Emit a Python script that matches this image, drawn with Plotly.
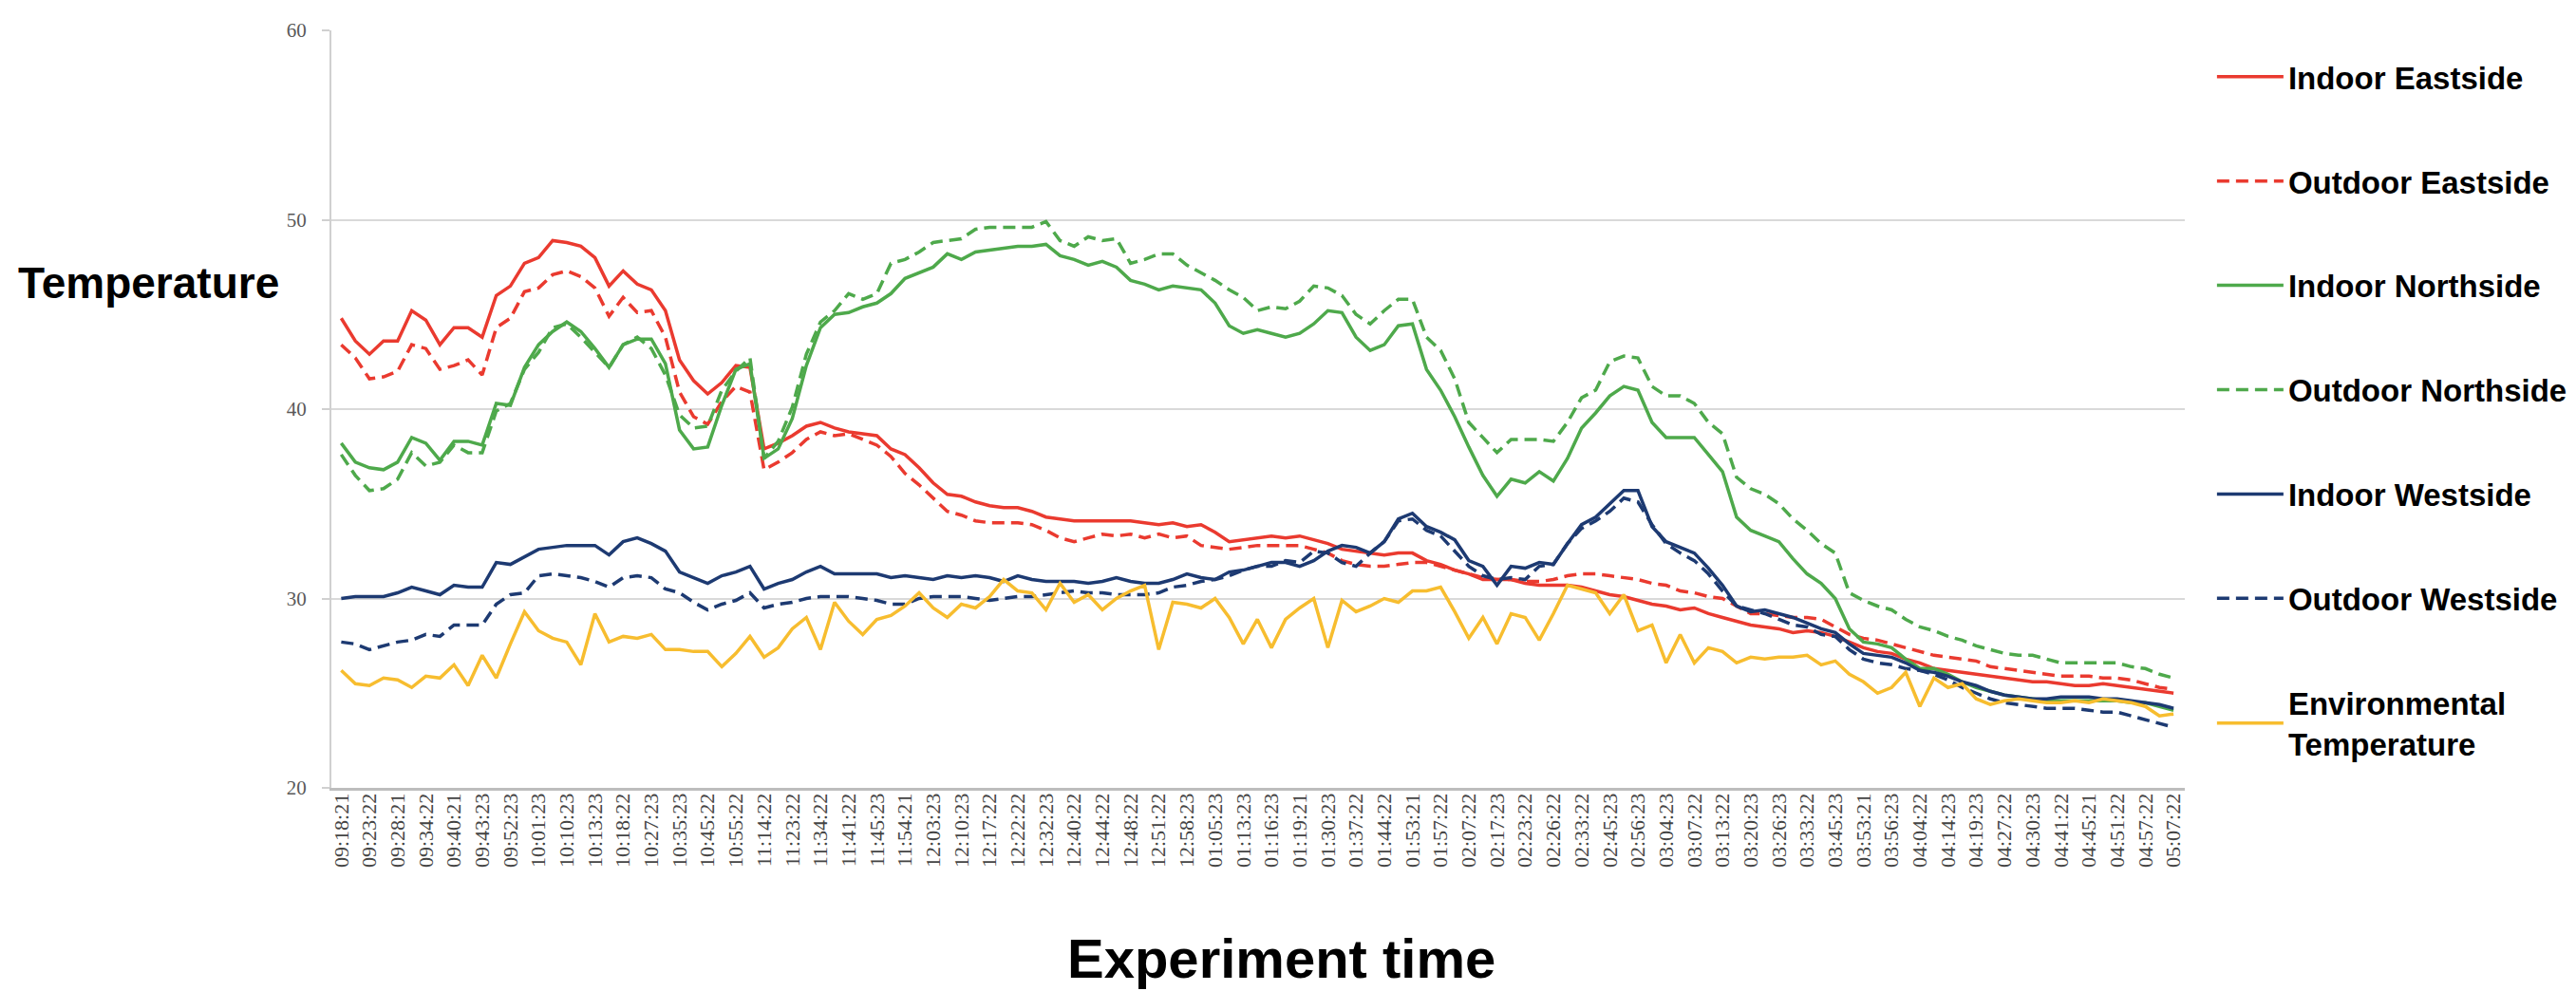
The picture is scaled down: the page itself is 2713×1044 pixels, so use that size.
import numpy as np
import plotly.graph_objects as go

# Tick labels of the category (time) axis
time_labels = [
    "09:18:21", "09:23:22", "09:28:21", "09:34:22", "09:40:21", "09:43:23", "09:52:23",
    "10:01:23", "10:10:23", "10:13:23", "10:18:22", "10:27:23", "10:35:23", "10:45:22",
    "10:55:22", "11:14:22", "11:23:22", "11:34:22", "11:41:22", "11:45:23", "11:54:21",
    "12:03:23", "12:10:23", "12:17:22", "12:22:22", "12:32:23", "12:40:22", "12:44:22",
    "12:48:22", "12:51:22", "12:58:23", "01:05:23", "01:13:23", "01:16:23", "01:19:21",
    "01:30:23", "01:37:22", "01:44:22", "01:53:21", "01:57:22", "02:07:22", "02:17:23",
    "02:23:22", "02:26:22", "02:33:22", "02:45:23", "02:56:23", "03:04:23", "03:07:22",
    "03:13:22", "03:20:23", "03:26:23", "03:33:22", "03:45:23", "03:53:21", "03:56:23",
    "04:04:22", "04:14:23", "04:19:23", "04:27:22", "04:30:23", "04:41:22", "04:45:21",
    "04:51:22", "04:57:22", "05:07:22",
]

# Readings: two samples per labelled time step (131 samples)
indoor_east = [
    44.8, 43.6, 42.9, 43.6, 43.6, 45.2, 44.7, 43.4, 44.3, 44.3, 43.8, 46.0, 46.5, 47.7, 48.0, 48.9, 48.8,
    48.6, 48.0, 46.5, 47.3, 46.6, 46.3, 45.2, 42.6, 41.5, 40.8, 41.4, 42.3, 42.2, 37.9, 38.2, 38.6,
    39.1, 39.3, 39.0, 38.8, 38.7, 38.6, 37.9, 37.6, 36.9, 36.1, 35.5, 35.4, 35.1, 34.9, 34.8, 34.8,
    34.6, 34.3, 34.2, 34.1, 34.1, 34.1, 34.1, 34.1, 34.0, 33.9, 34.0, 33.8, 33.9, 33.5, 33.0, 33.1, 33.2,
    33.3, 33.2, 33.3, 33.1, 32.9, 32.6, 32.5, 32.4, 32.3, 32.4, 32.4, 32.0, 31.8, 31.5, 31.3, 31.0,
    31.0, 31.0, 30.8, 30.7, 30.7, 30.7, 30.6, 30.4, 30.2, 30.1, 29.9, 29.7, 29.6, 29.4, 29.5, 29.2, 29.0,
    28.8, 28.6, 28.5, 28.4, 28.2, 28.3, 28.2, 28.0, 27.7, 27.4, 27.2, 27.1, 26.8, 26.6, 26.3, 26.2,
    26.1, 26.0, 25.9, 25.8, 25.7, 25.6, 25.6, 25.5, 25.4, 25.4, 25.5, 25.4, 25.3, 25.2, 25.1, 25.0,
]
outdoor_east = [
    43.4, 42.7, 41.6, 41.7, 42.0, 43.4, 43.2, 42.1, 42.3, 42.6, 41.8, 44.3, 44.8, 46.2, 46.4, 47.1, 47.3,
    47.0, 46.4, 44.9, 45.9, 45.1, 45.2, 43.8, 40.9, 39.6, 39.2, 40.4, 41.2, 40.9, 36.8, 37.2, 37.7,
    38.4, 38.8, 38.6, 38.7, 38.4, 38.1, 37.5, 36.6, 36.0, 35.3, 34.6, 34.4, 34.1, 34.0, 34.0, 34.0,
    33.9, 33.6, 33.2, 33.0, 33.2, 33.4, 33.3, 33.4, 33.2, 33.4, 33.2, 33.3, 32.8, 32.7, 32.6, 32.7, 32.8,
    32.8, 32.8, 32.8, 32.6, 32.4, 32.0, 31.8, 31.7, 31.7, 31.8, 31.9, 31.9, 31.7, 31.5, 31.3, 31.1,
    31.0, 31.0, 30.9, 30.9, 31.0, 31.2, 31.3, 31.3, 31.2, 31.1, 31.0, 30.8, 30.7, 30.4, 30.3, 30.1, 30.0,
    29.6, 29.2, 29.2, 29.1, 29.0, 29.0, 28.9, 28.5, 28.1, 27.9, 27.8, 27.6, 27.4, 27.2, 27.0, 26.9,
    26.8, 26.7, 26.4, 26.3, 26.2, 26.1, 26.0, 25.9, 25.9, 25.9, 25.8, 25.8, 25.7, 25.5, 25.3, 25.2,
]
indoor_north = [
    38.2, 37.2, 36.9, 36.8, 37.2, 38.5, 38.2, 37.3, 38.3, 38.3, 38.1, 40.3, 40.2, 42.2, 43.4, 44.1, 44.6,
    44.1, 43.2, 42.2, 43.4, 43.7, 43.7, 42.4, 38.9, 37.9, 38.0, 40.2, 42.1, 42.4, 37.4, 37.9, 39.5,
    42.3, 44.3, 45.0, 45.1, 45.4, 45.6, 46.1, 46.9, 47.2, 47.5, 48.2, 47.9, 48.3, 48.4, 48.5, 48.6,
    48.6, 48.7, 48.1, 47.9, 47.6, 47.8, 47.5, 46.8, 46.6, 46.3, 46.5, 46.4, 46.3, 45.6, 44.4, 44.0, 44.2,
    44.0, 43.8, 44.0, 44.5, 45.2, 45.1, 43.8, 43.1, 43.4, 44.4, 44.5, 42.1, 41.0, 39.6, 38.0, 36.5,
    35.4, 36.3, 36.1, 36.7, 36.2, 37.4, 39.0, 39.8, 40.7, 41.2, 41.0, 39.3, 38.5, 38.5, 38.5, 37.6, 36.7,
    34.3, 33.6, 33.3, 33.0, 32.1, 31.3, 30.8, 30.0, 28.4, 27.7, 27.6, 27.4, 26.8, 26.3, 26.3, 26.0,
    25.6, 25.3, 25.1, 24.9, 24.8, 24.7, 24.6, 24.6, 24.6, 24.6, 24.6, 24.6, 24.5, 24.5, 24.3, 24.1,
]
outdoor_north = [
    37.6, 36.5, 35.7, 35.8, 36.3, 37.7, 37.0, 37.2, 38.1, 37.7, 37.7, 39.9, 40.3, 42.1, 43.0, 44.3, 44.5,
    43.8, 43.0, 42.2, 43.4, 43.8, 43.2, 41.8, 39.7, 39.0, 39.1, 41.0, 42.0, 42.7, 37.4, 38.3, 40.1,
    42.9, 44.6, 45.2, 46.1, 45.8, 46.1, 47.7, 47.9, 48.3, 48.8, 48.9, 49.0, 49.5, 49.6, 49.6, 49.6,
    49.6, 49.9, 48.9, 48.6, 49.1, 48.9, 49.0, 47.7, 47.9, 48.2, 48.2, 47.6, 47.2, 46.8, 46.3, 45.9, 45.2,
    45.4, 45.3, 45.7, 46.5, 46.4, 46.0, 45.0, 44.5, 45.2, 45.8, 45.8, 43.8, 43.1, 41.6, 39.3, 38.5,
    37.7, 38.4, 38.4, 38.4, 38.3, 39.3, 40.6, 41.0, 42.5, 42.8, 42.7, 41.2, 40.7, 40.7, 40.3, 39.3, 38.7,
    36.4, 35.8, 35.5, 35.0, 34.2, 33.6, 32.9, 32.4, 30.3, 29.9, 29.6, 29.4, 28.9, 28.5, 28.3, 28.0,
    27.8, 27.5, 27.3, 27.1, 27.0, 27.0, 26.8, 26.6, 26.6, 26.6, 26.6, 26.6, 26.4, 26.3, 26.0, 25.8,
]
indoor_west = [
    30.0, 30.1, 30.1, 30.1, 30.3, 30.6, 30.4, 30.2, 30.7, 30.6, 30.6, 31.9, 31.8, 32.2, 32.6, 32.7, 32.8,
    32.8, 32.8, 32.3, 33.0, 33.2, 32.9, 32.5, 31.4, 31.1, 30.8, 31.2, 31.4, 31.7, 30.5, 30.8, 31.0,
    31.4, 31.7, 31.3, 31.3, 31.3, 31.3, 31.1, 31.2, 31.1, 31.0, 31.2, 31.1, 31.2, 31.1, 30.9, 31.2,
    31.0, 30.9, 30.9, 30.9, 30.8, 30.9, 31.1, 30.9, 30.8, 30.8, 31.0, 31.3, 31.1, 31.0, 31.4, 31.5, 31.7,
    31.9, 31.9, 31.7, 32.0, 32.5, 32.8, 32.7, 32.4, 33.0, 34.2, 34.5, 33.8, 33.5, 33.1, 32.0, 31.7,
    30.7, 31.7, 31.6, 31.9, 31.8, 32.9, 33.9, 34.3, 35.0, 35.7, 35.7, 33.8, 33.0, 32.7, 32.4, 31.6, 30.7,
    29.6, 29.3, 29.4, 29.2, 29.0, 28.7, 28.4, 28.2, 27.6, 27.1, 27.0, 26.9, 26.6, 26.2, 26.1, 25.9,
    25.6, 25.4, 25.1, 24.9, 24.8, 24.7, 24.7, 24.8, 24.8, 24.8, 24.7, 24.7, 24.6, 24.5, 24.4, 24.2,
]
outdoor_west = [
    27.7, 27.6, 27.3, 27.5, 27.7, 27.8, 28.1, 28.0, 28.6, 28.6, 28.6, 29.7, 30.2, 30.3, 31.2, 31.3, 31.2,
    31.1, 30.9, 30.6, 31.1, 31.2, 31.1, 30.5, 30.3, 29.8, 29.4, 29.7, 29.9, 30.3, 29.5, 29.7, 29.8,
    30.0, 30.1, 30.1, 30.1, 30.0, 29.9, 29.7, 29.7, 30.0, 30.1, 30.1, 30.1, 30.0, 29.9, 30.0, 30.1,
    30.1, 30.2, 30.3, 30.4, 30.3, 30.3, 30.2, 30.2, 30.2, 30.3, 30.6, 30.7, 30.9, 31.0, 31.2, 31.5, 31.7,
    31.7, 32.0, 31.9, 32.5, 32.4, 31.9, 31.7, 32.4, 33.0, 34.1, 34.2, 33.6, 33.3, 32.5, 31.7, 31.2,
    31.0, 31.1, 31.0, 31.7, 31.8, 32.9, 33.7, 34.1, 34.6, 35.3, 35.1, 33.9, 32.9, 32.4, 32.0, 31.3, 30.4,
    29.6, 29.4, 29.2, 28.9, 28.6, 28.5, 28.1, 28.0, 27.3, 26.8, 26.6, 26.5, 26.3, 26.2, 26.0, 25.7,
    25.3, 25.0, 24.7, 24.5, 24.4, 24.3, 24.2, 24.2, 24.2, 24.1, 24.0, 24.0, 23.8, 23.6, 23.4, 23.2,
]
environmental = [
    26.2, 25.5, 25.4, 25.8, 25.7, 25.3, 25.9, 25.8, 26.5, 25.4, 27.0, 25.8, 27.6, 29.3, 28.3, 27.9, 27.7,
    26.5, 29.2, 27.7, 28.0, 27.9, 28.1, 27.3, 27.3, 27.2, 27.2, 26.4, 27.1, 28.0, 26.9, 27.4, 28.4,
    29.0, 27.3, 29.8, 28.8, 28.1, 28.9, 29.1, 29.6, 30.3, 29.5, 29.0, 29.7, 29.5, 30.1, 31.0, 30.4,
    30.3, 29.4, 30.8, 29.8, 30.2, 29.4, 30.0, 30.4, 30.7, 27.3, 29.8, 29.7, 29.5, 30.0, 29.0, 27.6, 28.9,
    27.4, 28.9, 29.5, 30.0, 27.4, 29.9, 29.3, 29.6, 30.0, 29.8, 30.4, 30.4, 30.6, 29.3, 27.9, 29.0,
    27.6, 29.2, 29.0, 27.8, 29.2, 30.7, 30.5, 30.3, 29.2, 30.2, 28.3, 28.6, 26.6, 28.1, 26.6, 27.4, 27.2,
    26.6, 26.9, 26.8, 26.9, 26.9, 27.0, 26.5, 26.7, 26.0, 25.6, 25.0, 25.3, 26.1, 24.3, 25.8, 25.3,
    25.5, 24.7, 24.4, 24.6, 24.7, 24.6, 24.5, 24.5, 24.6, 24.5, 24.7, 24.6, 24.5, 24.3, 23.8, 23.9,
]

series_names = [
    "Indoor Eastside", "Outdoor Eastside", "Indoor Northside", "Outdoor Northside",
    "Indoor Westside", "Outdoor Westside", "Environmental<br>Temperature",
]
series_values = [indoor_east, outdoor_east, indoor_north, outdoor_north,
                 indoor_west, outdoor_west, environmental]
series_colors = ["#EA3A2F", "#EA3A2F", "#4EA94B", "#4EA94B", "#1D3A72", "#1D3A72", "#F7BD2F"]
series_dash = ["solid", "13px,7px", "solid", "13px,7px", "solid", "13px,7px", "solid"]

n = len(indoor_east)
x_pos = np.arange(n) * (len(time_labels) - 1) / (n - 1)

fig = go.Figure()
for i, (name, vals, col, dsh) in enumerate(zip(series_names, series_values, series_colors, series_dash)):
    fig.add_trace(go.Scatter(
        x=x_pos, y=vals, mode="lines", name=name, legendgroup=f"g{i}",
        line=dict(color=col, width=3.5, dash=dsh),
    ))

W, H = 2713, 1044
L, R, T, B = 341, 2713 - 2301, 19, 1044 - 822
pw, ph = W - L - R, H - T - B

fig.update_layout(
    width=W, height=H,
    margin=dict(l=L, r=R, t=T, b=B, pad=0),
    paper_bgcolor="white", plot_bgcolor="white",
    showlegend=True,
    legend=dict(
        x=(2330 - L) / pw, xanchor="left",
        y=(822 - 40) / ph, yanchor="top",
        font=dict(family="Liberation Sans, Arial, sans-serif", size=33, color="black", weight="bold"),
        tracegroupgap=64, itemwidth=70, bgcolor="rgba(0,0,0,0)",
    ),
    xaxis=dict(
        range=[-0.35, 65.4],
        tickmode="array", tickvals=list(range(len(time_labels))), ticktext=time_labels,
        tickangle=-90,
        tickfont=dict(family="Liberation Serif, Times New Roman, serif", size=22, color="#444444"),
        showgrid=False, zeroline=False,
        showline=True, linecolor="#BDBDBD", linewidth=3,
        ticks="", ticklabelstandoff=-6,
    ),
    yaxis=dict(
        range=[20, 60], tickvals=[20, 30, 40, 50, 60],
        tickfont=dict(family="Liberation Serif, Times New Roman, serif", size=21, color="#595959"),
        showgrid=True, gridcolor="#D9D9D9", gridwidth=2,
        zeroline=False, showline=True, linecolor="#D0D0D0", linewidth=2,
        ticks="outside", ticklen=8, tickcolor="#D0D0D0", tickwidth=2,
        ticklabelstandoff=12,
    ),
    annotations=[
        dict(text="Temperature", xref="paper", yref="paper",
             x=(8 - L) / pw, y=(822 - 287) / ph, xanchor="left", yanchor="middle",
             showarrow=False,
             font=dict(family="Liberation Sans, Arial, sans-serif", size=46, color="black", weight="bold")),
        dict(text="Experiment time", xref="paper", yref="paper",
             x=(1346 - L) / pw, y=(822 - 1003) / ph, xanchor="center", yanchor="middle",
             showarrow=False,
             font=dict(family="Liberation Sans, Arial, sans-serif", size=58, color="black", weight="bold")),
    ],
)

fig.write_html("out.html")
